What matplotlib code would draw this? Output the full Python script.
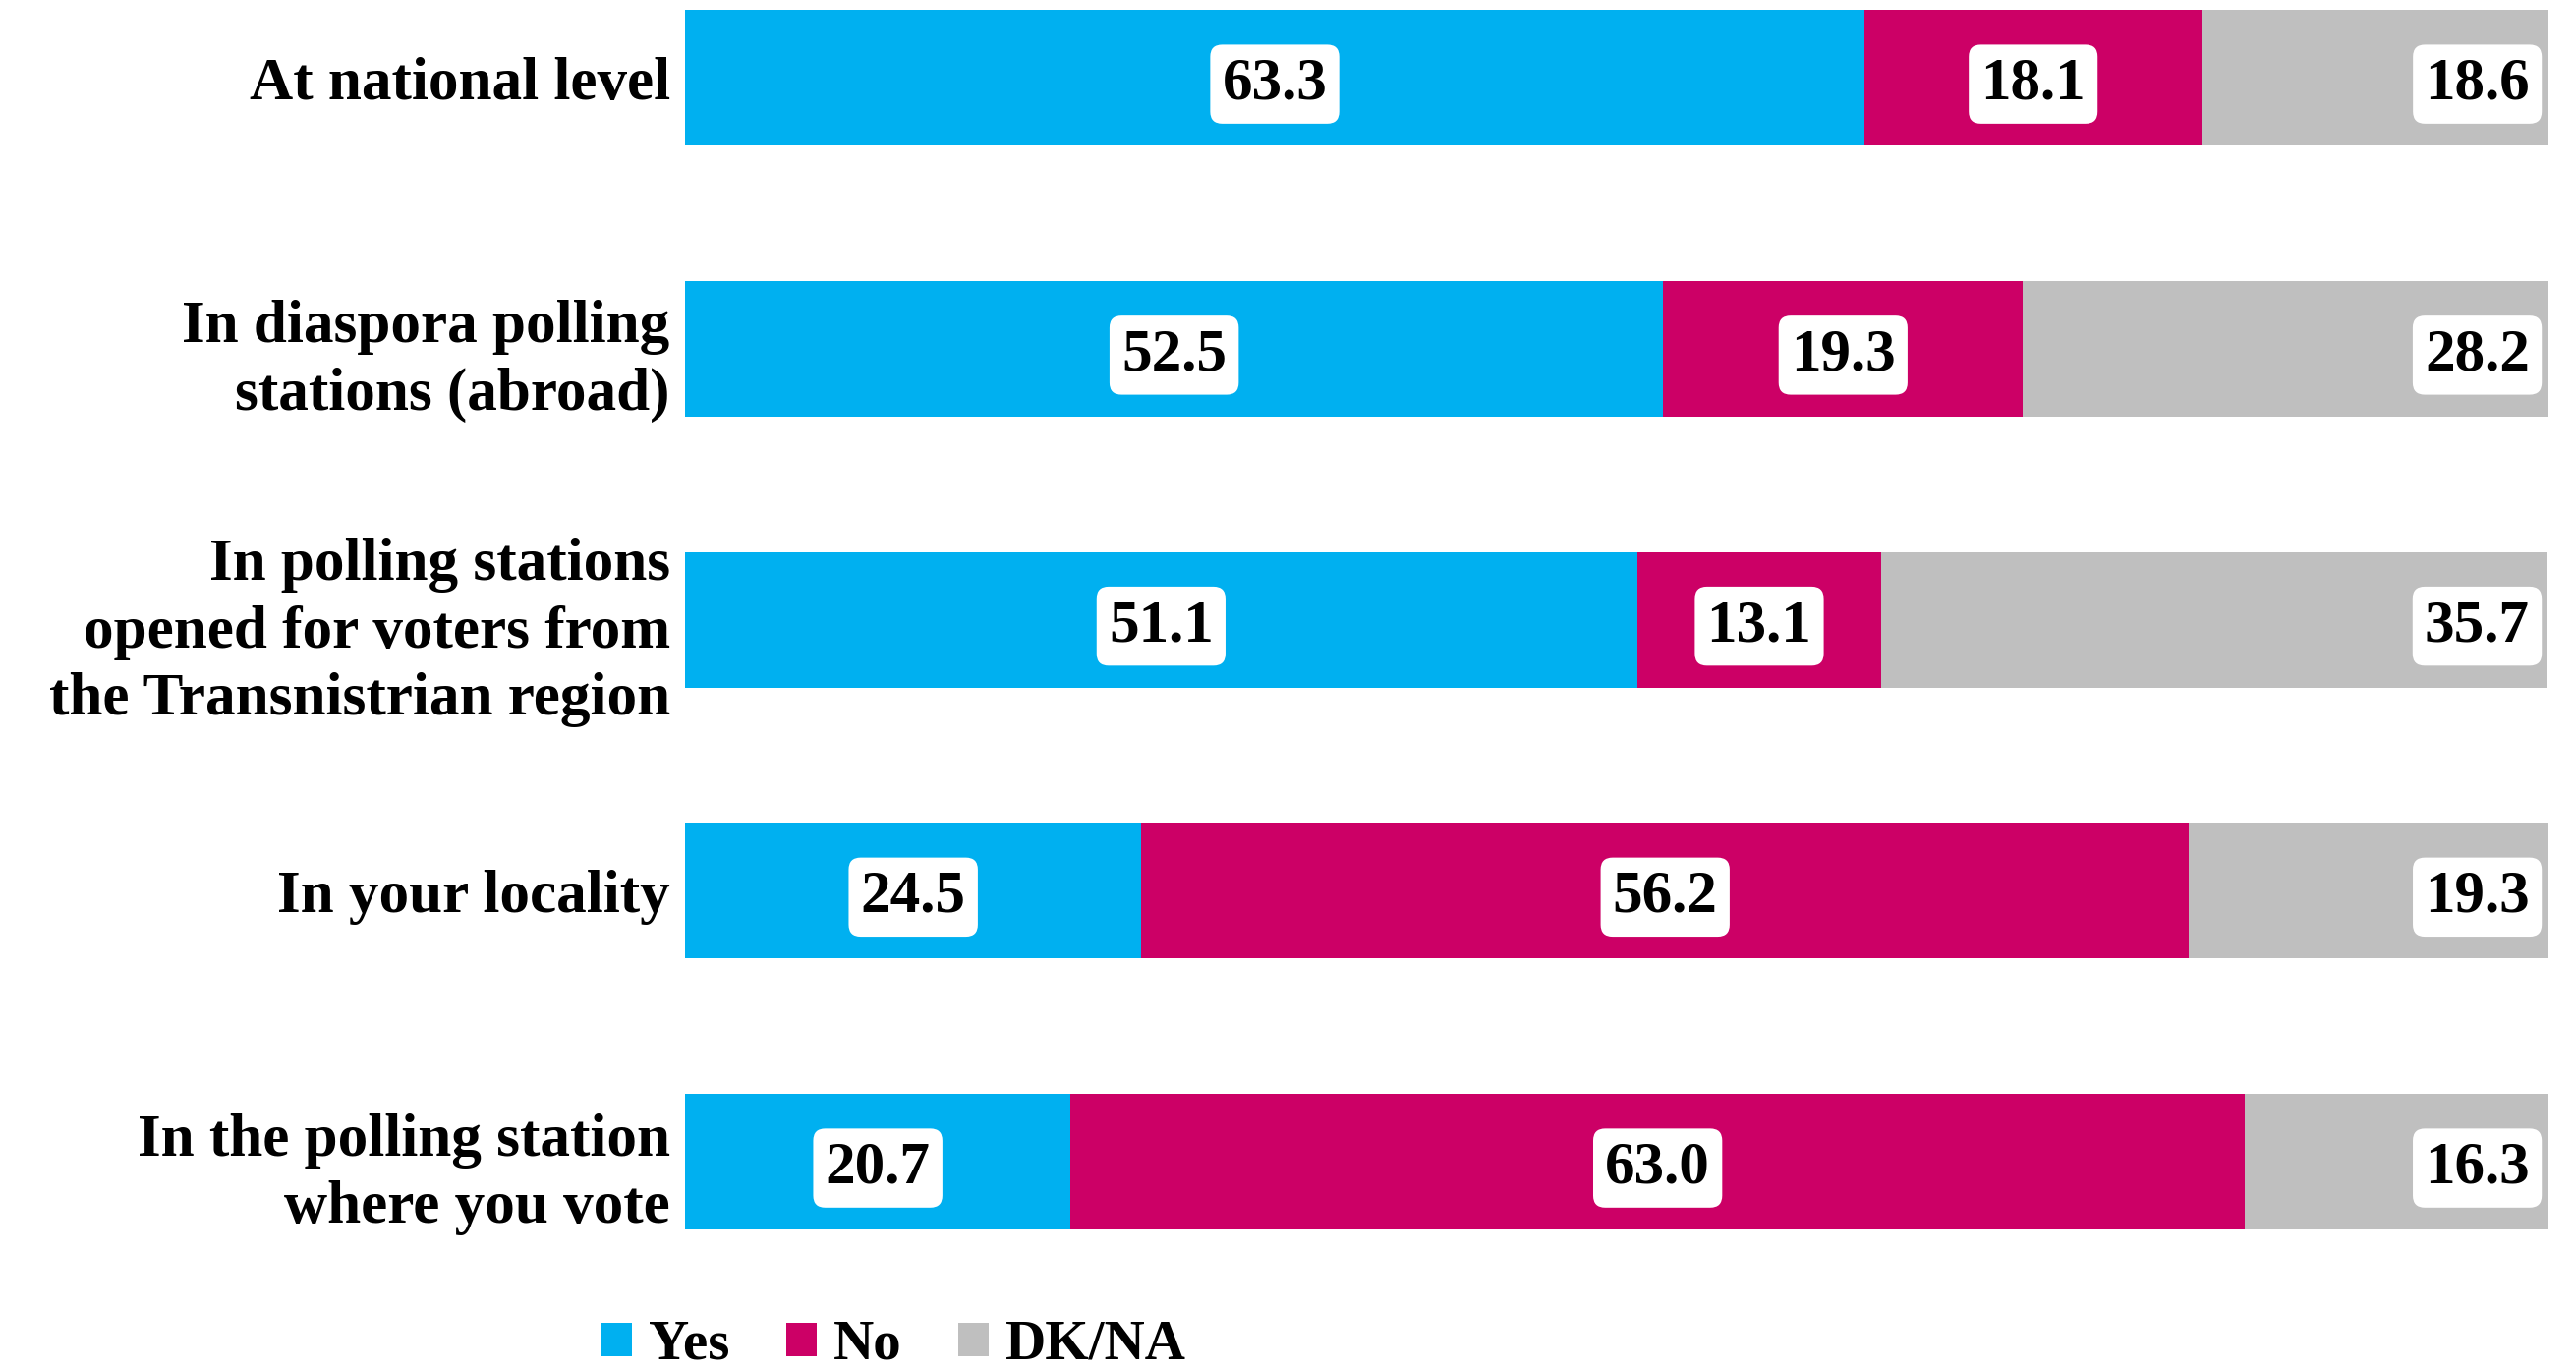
import matplotlib.pyplot as plt
import numpy as np

categories = [
    "At national level",
    "In diaspora polling\nstations (abroad)",
    "In polling stations\nopened for voters from\nthe Transnistrian region",
    "In your locality",
    "In the polling station\nwhere you vote",
]
yes = [63.3, 52.5, 51.1, 24.5, 20.7]
no = [18.1, 19.3, 13.1, 56.2, 63.0]
dkna = [18.6, 28.2, 35.7, 19.3, 16.3]
series_names = ["Yes", "No", "DK/NA"]
colors = ["#00B0F0", "#CC0066", "#BFBFBF"]

FONT = "Liberation Serif"
# ----------------------------------------------------------------------------------------------------------------------
fig = plt.figure(figsize=(26.21, 13.94), dpi=100)
ax = fig.add_axes([0.2659, 0.0818, 0.7234, 0.918])

y = np.arange(len(categories))
left = np.zeros(len(categories))
for vals, name, col in zip([yes, no, dkna], series_names, colors):
    ax.barh(y, vals, left=left, height=0.5, color=col, label=name)
    for i, v in enumerate(vals):
        if name == "DK/NA":
            xpos, ha = 99.0, "right"
        else:
            xpos, ha = left[i] + v / 2, "center"
        ax.text(xpos, y[i], f"{v:.1f}", ha=ha, va="center_baseline", fontsize=44, fontweight="bold",
                family=FONT, color="black",
                bbox=dict(boxstyle="round,pad=0.2,rounding_size=0.2", fc="white", ec="none"))
    left += np.array(vals)

ax.set_xlim(0, 100)
ax.set_ylim(4.355, -0.286)
ax.set_yticks(y)
ax.set_yticklabels(categories, fontsize=44, fontweight="bold", family=FONT, linespacing=1.3)
ax.tick_params(axis="y", length=0, pad=11)
ax.set_xticks([])
for s in ax.spines.values():
    s.set_visible(False)

fig.legend(loc="center", bbox_to_anchor=(0.347, 0.018), ncol=3, frameon=False,
           prop=dict(family=FONT, weight="bold", size=41),
           handlelength=0.55, handleheight=0.55, handletextpad=0.3, columnspacing=1.0)

fig.savefig("out.png", dpi=100)
